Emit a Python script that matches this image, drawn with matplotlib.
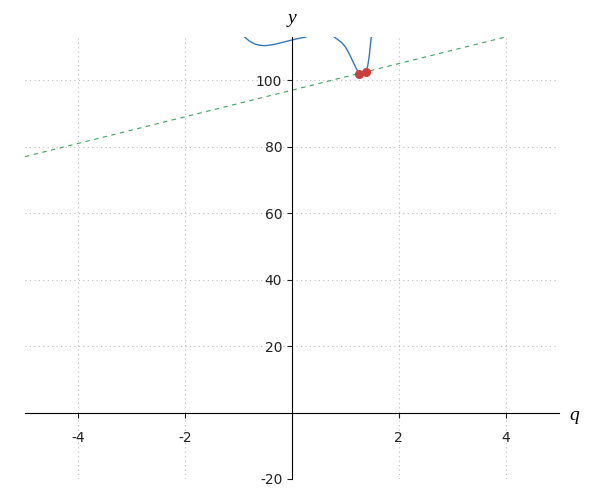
import matplotlib
matplotlib.use("Agg")
import matplotlib.pyplot as plt

plt.rcParams["axes.unicode_minus"] = False

# curve (left piece continues above the top through a local max)
curve_x = [-0.95, -0.88, -0.80, -0.70, -0.60, -0.50, -0.40, -0.30, -0.20, -0.10,
           0.00, 0.10, 0.20, 0.26, 0.35, 0.45, 0.55, 0.65, 0.72, 0.79, 0.86, 0.93,
           1.00, 1.05, 1.10, 1.15, 1.20, 1.25, 1.30, 1.35, 1.39, 1.42, 1.45,
           1.48, 1.51]
curve_y = [114.4, 112.9, 111.8, 110.9, 110.5, 110.4, 110.6, 110.9, 111.3, 111.7,
           112.1, 112.5, 112.8, 113.0, 115.0, 117.2, 118.2, 117.6, 115.6, 113.0, 112.2, 111.3,
           110.0, 108.6, 107.0, 105.3, 103.6, 102.2, 101.5, 101.7, 102.6, 104.5, 107.8,
           112.5, 117.0]

# two points on the curve and the secant through them
pts_x = [1.26, 1.39]
pts_y = [102.0, 102.6]
line_x = [-5, 5]
line_y = [77.0, 117.0]

xticks = [-4, -2, 2, 4]
yticks = [-20, 20, 40, 60, 80, 100]

fig = plt.figure(figsize=(6, 5), dpi=100)
ax = fig.add_axes([0.0417, 0.042, 0.89, 0.884])

ax.plot(line_x, line_y, "--", color="#45a165", lw=0.8, dashes=(4, 4))
ax.plot(curve_x, curve_y, color="#3478b8", lw=1.0)
ax.plot(pts_x, pts_y, "o", color="#c9403a", ms=5.5, zorder=5)

ax.set_xlim(-5, 5)
ax.set_ylim(-20, 113)

ax.spines["left"].set_position(("data", 0))
ax.spines["bottom"].set_position(("data", 0))
ax.spines["top"].set_visible(False)
ax.spines["right"].set_visible(False)

ax.set_xticks(xticks)
ax.set_yticks(yticks)
ax.tick_params(axis="x", pad=10, labelsize=10, colors="#222222")
ax.tick_params(axis="y", labelsize=10, colors="#222222")
ax.grid(True, ls=(0, (1, 3)), color="#bbbbbb", lw=0.8)
ax.set_axisbelow(True)

ax.text(0, 1.022, "y", transform=ax.get_xaxis_transform(), ha="center", va="bottom",
        fontsize=14, fontstyle="italic", family="Liberation Serif")
ax.text(1.02, -1, "q", transform=ax.get_yaxis_transform(), ha="left", va="center",
        fontsize=14, fontstyle="italic", family="Liberation Serif")

plt.savefig("out.png", dpi=100)
